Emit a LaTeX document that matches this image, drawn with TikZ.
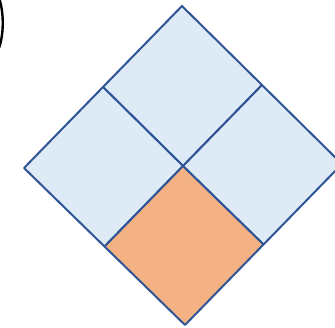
\documentclass[tikz,border=0pt]{standalone}
\definecolor{cellblue}{HTML}{DEEBF7}
\definecolor{cellorange}{HTML}{F4B183}
\definecolor{edgeblue}{HTML}{2F5597}
\tikzset{
  cell/.style={draw=edgeblue, line width=2pt, line join=round},
  bluecell/.style={cell, fill=cellblue},
  orangecell/.style={cell, fill=cellorange},
  paren/.style={draw=black, line width=2.4pt}
}
\begin{document}
\begin{tikzpicture}[x=1pt,y=-1pt]
\useasboundingbox (0,0) rectangle (335,327);
\clip (0,0) rectangle (335,327);
\coordinate (T) at (182,6);
\coordinate (L) at (24,168);
\coordinate (R) at (342,164);
\coordinate (B) at (185,325);
\coordinate (C) at (183,166);
\coordinate (TL) at (103,87);
\coordinate (TR) at (262,85);
\coordinate (BL) at (104.5,246.5);
\coordinate (BR) at (263.5,244.5);
\path[bluecell] (T) -- (TR) -- (C) -- (TL) -- cycle;
\path[bluecell] (TL) -- (C) -- (BL) -- (L) -- cycle;
\path[bluecell] (TR) -- (R) -- (BR) -- (C) -- cycle;
\path[orangecell] (C) -- (BR) -- (B) -- (BL) -- cycle;
\draw[paren] (-1,-2) .. controls (4,12) and (4,34) .. (-1,48);
\end{tikzpicture}
\end{document}
